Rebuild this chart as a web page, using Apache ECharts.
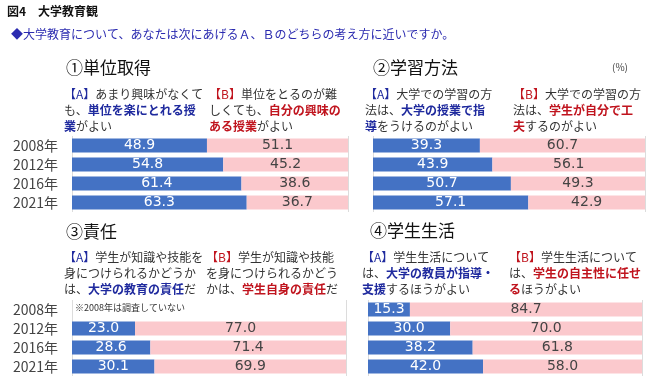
<!DOCTYPE html>
<html>
<head>
<meta charset="utf-8">
<script src="https://cdn.jsdelivr.net/npm/echarts@6/dist/echarts.min.js"></script>
<style>
html,body{margin:0;padding:0;background:#fff;}
#c{width:650px;height:382px;}
</style>
</head>
<body>
<div id="c"></div>
<script>
const years = ['2008年', '2012年', '2016年', '2021年'];
const a1 = [48.9, 54.8, 61.4, 63.3];
const b1 = [51.1, 45.2, 38.6, 36.7];
const a2 = [39.3, 43.9, 50.7, 57.1];
const b2 = [60.7, 56.1, 49.3, 42.9];
const a3 = [null, 23.0, 28.6, 30.1];
const b3 = [null, 77.0, 71.4, 69.9];
const a4 = [15.3, 30.0, 38.2, 42.0];
const b4 = [84.7, 70.0, 61.8, 58.0];

const FONT = '"Noto Sans CJK JP", "Noto Sans", sans-serif';
const BLUE = '#4472c4';
const PINK = '#fbc9cd';
const TBLUE = '#1f2a9e';
const TRED = '#c0141e';

const grids = [
  {left: 72, top: 136, width: 276, height: 76},
  {left: 373, top: 136, width: 272, height: 76},
  {left: 72, top: 300, width: 274, height: 76},
  {left: 368, top: 300, width: 274, height: 76}
];
const showYears = [true, false, true, false];
const pairs = [[a1, b1], [a2, b2], [a3, b3], [a4, b4]];

const xAxis = grids.map((g, i) => ({
  type: 'value', gridIndex: i, min: 0, max: 100, interval: 100,
  axisLine: {show: false}, axisTick: {show: false}, axisLabel: {show: false},
  splitLine: {show: true, lineStyle: {color: '#dcdcdc', width: 1}}
}));
const yAxis = grids.map((g, i) => ({
  type: 'category', gridIndex: i, data: years, inverse: true,
  axisLine: {show: false}, axisTick: {show: false},
  axisLabel: {show: showYears[i], margin: 14, color: '#444', fontSize: 14, fontFamily: FONT}
}));
const fmt = p => (p.value == null ? '' : Number(p.value).toFixed(1));
const series = [];
pairs.forEach((pr, i) => {
  series.push({
    type: 'bar', xAxisIndex: i, yAxisIndex: i, stack: 's' + i, data: pr[0],
    barWidth: 14, itemStyle: {color: BLUE}, silent: true,
    label: {show: true, position: 'inside', color: '#fff', fontSize: 14, fontFamily: '"DejaVu Sans", sans-serif', formatter: fmt}
  });
  series.push({
    type: 'bar', xAxisIndex: i, yAxisIndex: i, stack: 's' + i, data: pr[1],
    barWidth: 14, itemStyle: {color: PINK}, silent: true,
    label: {show: true, position: 'inside', color: '#444', fontSize: 14, fontFamily: '"DejaVu Sans", sans-serif', formatter: fmt}
  });
});

const rich = {
  a: {fill: TBLUE, fontSize: 12, fontFamily: FONT},
  b: {fill: TRED, fontSize: 12, fontFamily: FONT},
  ab: {fill: TBLUE, fontSize: 12, fontWeight: 'bold', fontFamily: FONT},
  bb: {fill: TRED, fontSize: 12, fontWeight: 'bold', fontFamily: FONT}
};
function desc(left, top, text) {
  return {
    type: 'text', left: left, top: top,
    style: {text: text, rich: rich, fill: '#333', fontSize: 12, fontFamily: FONT, lineHeight: 16}
  };
}
function ttl(left, top, text, size, color, weight) {
  return {
    type: 'text', left: left, top: top,
    style: {text: text, fill: color, fontSize: size, fontFamily: FONT, fontWeight: weight || 'normal'}
  };
}

const graphic = [
  ttl(7, 5, '図4　大学教育観', 12, '#111', 'bold'),
  ttl(11, 28, '◆大学教育について、あなたは次にあげるＡ、Ｂのどちらの考え方に近いですか。', 12, '#2b2bb0'),
  ttl(66, 59, '①単位取得', 17, '#111'),
  ttl(373, 59, '②学習方法', 17, '#111'),
  ttl(66, 223, '③責任', 17, '#111'),
  ttl(370, 222, '④学生生活', 17, '#111'),
  ttl(612, 62, '(%)', 10, '#444'),
  desc(64, 86, '{a|【A】}あまり興味がなくて\nも、{ab|単位を楽にとれる授}\n{ab|業}がよい'),
  desc(209, 86, '{b|【B】}単位をとるのが難\nしくても、{bb|自分の興味の}\n{bb|ある授業}がよい'),
  desc(365, 86, '{a|【A】}大学での学習の方\n法は、{ab|大学の授業で指}\n{ab|導}をうけるのがよい'),
  desc(513, 86, '{b|【B】}大学での学習の方\n法は、{bb|学生が自分で工}\n{bb|夫}するのがよい'),
  desc(64, 249, '{a|【A】}学生が知識や技能を\n身につけられるかどうか\nは、{ab|大学の教育の責任}だ'),
  desc(206, 249, '{b|【B】}学生が知識や技能\nを身につけられるかどう\nかは、{bb|学生自身の責任}だ'),
  desc(362, 249, '{a|【A】}学生生活について\nは、{ab|大学の教員が指導・}\n{ab|支援}するほうがよい'),
  desc(509, 249, '{b|【B】}学生生活について\nは、{bb|学生の自主性に任せ}\n{bb|る}ほうがよい'),
  ttl(75, 303, '※2008年は調査していない', 9, '#333')
];

const chart = echarts.init(document.getElementById('c'), null, {renderer: 'canvas'});
chart.setOption({
  animation: false,
  grid: grids,
  xAxis: xAxis,
  yAxis: yAxis,
  series: series,
  graphic: graphic
});
</script>
</body>
</html>
